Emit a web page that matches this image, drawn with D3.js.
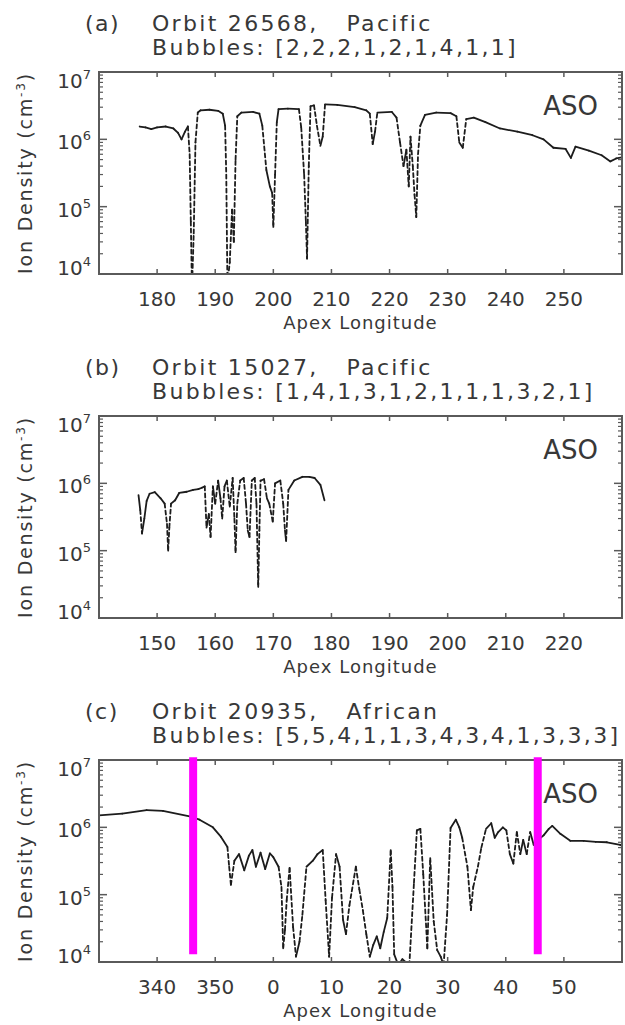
<!DOCTYPE html>
<html>
<head>
<meta charset="utf-8">
<script src="https://cdn.jsdelivr.net/npm/d3@7"></script>
<style>
  html, body { margin: 0; padding: 0; background: #fff; }
  svg { display: block; font-family: "DejaVu Sans", sans-serif; }
</style>
</head>
<body>
<svg id="chart" width="625" height="1025"></svg>
<script>
// Panel headings
const panelLetters = ["(a)", "(b)", "(c)"];
const orbitTitles = ["Orbit 26568,   Pacific", "Orbit 15027,   Pacific", "Orbit 20935,   African"];
const bubbleCounts = [
  [2, 2, 2, 1, 2, 1, 4, 1, 1],
  [1, 4, 1, 3, 1, 2, 1, 1, 1, 3, 2, 1],
  [5, 5, 4, 1, 1, 3, 4, 3, 4, 1, 3, 3, 3]
];
const instrumentLabel = "ASO";

// Apex longitude ranges (panel c runs across 360 and is unwrapped)
const lonDomains = [[170, 260], [140, 230], [330, 420]];
const lonTicks = [
  [180, 190, 200, 210, 220, 230, 240, 250],
  [150, 160, 170, 180, 190, 200, 210, 220],
  [340, 350, 360, 370, 380, 390, 400, 410]
];
const densityDomain = [1e4, 1e7];
const densityTicks = [1e4, 1e5, 1e6, 1e7];

// Ion density along track: [apex longitude, density cm^-3]
const densityA = [
  [177.0,1.55e6],[178.0,1.5e6],[179.0,1.42e6],[180.0,1.5e6],[181.5,1.55e6],[182.8,1.45e6],
  [183.6,1.25e6],[184.2,1.0e6],[184.8,1.3e6],[185.3,1.55e6],[185.6,6e5],[185.8,6e4],[186.0,6e3],
  [186.3,4e4],[186.6,9e5],[187.0,2.5e6],[187.5,2.7e6],[189.0,2.75e6],[190.5,2.65e6],[191.3,2.4e6],
  [191.7,1.6e6],[191.9,3e5],[192.1,7e3],[192.5,1.5e4],[192.9,9e4],[193.2,3e4],[193.5,5e5],
  [193.8,2.2e6],[194.5,2.5e6],[196.5,2.55e6],[197.6,2.4e6],[198.1,1.6e6],[198.8,3.5e5],[199.4,2e5],
  [199.8,1.6e5],[200.0,5e4],[200.3,3e5],[200.6,1.8e6],[200.9,2.8e6],[202.5,2.85e6],[204.4,2.8e6],
  [204.8,1.5e6],[205.3,3e5],[205.6,6e4],[205.8,1.7e4],[206.1,4e5],[206.4,3.1e6],[207.0,3.2e6],
  [207.5,1.6e6],[208.1,8e5],[208.5,1.1e6],[208.9,3.3e6],[211.0,3.25e6],[214.0,3.0e6],[216.0,2.7e6],
  [216.6,2.4e6],[217.1,8.5e5],[217.5,1.3e6],[217.9,2.5e6],[220.4,2.55e6],[221.2,2.1e6],[221.8,9e5],
  [222.4,4e5],[222.9,7e5],[223.3,2e5],[223.6,1.1e6],[224.0,4e5],[224.3,1.5e5],[224.6,7e4],
  [224.9,6e5],[225.3,1.6e6],[226.1,2.3e6],[228.0,2.5e6],[230.5,2.45e6],[231.5,2.2e6],[232.0,9e5],
  [232.6,7.5e5],[233.2,2.0e6],[234.5,2.1e6],[236.5,1.8e6],[239.0,1.45e6],[242.0,1.3e6],
  [244.6,1.15e6],[246.5,1.0e6],[248.2,7.5e5],[250.3,7.2e5],[251.2,5.3e5],[252.0,7.8e5],
  [254.3,6.8e5],[256.5,5.8e5],[258.0,4.7e5],[259.0,5.2e5],[260.0,5.4e5]
];
const densityB = [
  [146.8,6.7e5],[147.1,4e5],[147.4,1.8e5],[147.8,3e5],[148.2,5.5e5],[148.7,7e5],[149.6,7.4e5],
  [150.6,6e5],[151.3,5e5],[151.7,2.5e5],[151.9,1e5],[152.1,2.2e5],[152.4,5e5],[153.1,5.6e5],
  [153.8,7.2e5],[155.1,7.5e5],[156.2,8e5],[157.1,8.2e5],[157.7,8.6e5],[158.2,9e5],[158.5,2.2e5],
  [158.9,3.5e5],[159.2,1.6e5],[159.6,9e5],[160.0,5e5],[160.5,1.1e6],[160.9,6e5],[161.2,3e5],
  [161.6,9e5],[162.0,1.1e6],[162.5,4.5e5],[163.0,1.2e6],[163.3,3e5],[163.5,9.5e4],[163.8,5e5],
  [164.3,1.1e6],[164.9,1.2e6],[165.3,5e5],[165.6,2e5],[165.9,1.6e5],[166.3,1.1e6],[166.8,1.2e6],
  [167.1,5e5],[167.4,2.9e4],[167.6,2e5],[167.8,1.1e6],[168.4,1.15e6],[168.9,6e5],[169.3,5e5],
  [169.9,2.7e5],[170.3,1e6],[171.2,1.1e6],[171.7,5e5],[172.0,2e5],[172.2,1.4e5],[172.6,8e5],
  [173.6,1.1e6],[175.0,1.25e6],[176.2,1.25e6],[177.1,1.2e6],[178.1,9.5e5],[178.8,5.6e5]
];
const densityC = [
  [330.0,1.5e6],[334.0,1.6e6],[338.2,1.8e6],[341.0,1.75e6],[345.6,1.45e6],[347.3,1.3e6],
  [349.6,1.0e6],[351.0,7.2e5],[352.1,5.1e5],[352.4,2.6e5],[352.7,1.4e5],[353.3,3.2e5],[354.1,4e5],
  [355.0,2.3e5],[355.8,3.8e5],[356.4,4.6e5],[357.0,2.6e5],[357.8,4.2e5],[358.6,2.4e5],[359.4,4.1e5],
  [360.0,3.6e5],[360.9,2.6e5],[361.4,1.3e5],[361.7,1.6e4],[362.0,3e4],[362.3,8.3e4],[362.8,2.5e5],
  [363.4,3.3e4],[363.9,1.2e4],[364.5,2e4],[365.0,5e4],[365.7,2.6e5],[366.8,3.2e5],[367.6,4e5],
  [368.5,4.6e5],[369.0,8.3e4],[369.6,1.2e4],[370.1,9e4],[370.8,4e5],[371.4,2.6e5],[372.0,4.2e4],
  [372.5,2.6e4],[373.1,7e4],[374.2,2.6e5],[374.8,1.2e5],[375.4,5.9e4],[376.0,2.6e4],[376.6,1.2e4],
  [377.2,1.8e4],[377.8,2.4e4],[378.4,1.6e4],[379.0,2.8e4],[379.6,4.5e4],[380.2,4.6e5],[380.5,1.3e5],
  [380.8,1.3e4],[381.5,9e3],[382.2,1.1e4],[383.4,9e3],[384.2,1.5e5],[384.7,9e5],[385.3,9.5e5],
  [385.8,2e5],[386.5,1.6e4],[387.0,3.5e5],[387.6,4e4],[388.2,1.5e4],[388.8,1.2e4],[389.3,9e3],
  [389.9,5e4],[390.5,9.8e5],[391.4,1.3e6],[392.0,1e6],[392.5,7e5],[393.4,2.6e5],[394.0,5.9e4],
  [394.4,1.3e5],[395.2,2.6e5],[395.8,5e5],[396.6,9.5e5],[397.5,1.15e6],[398.1,7e5],[398.7,8.5e5],
  [399.5,1e6],[400.1,9e5],[400.7,4e5],[401.3,2.9e5],[401.9,8.5e5],[402.5,4e5],[403.0,6.5e5],
  [403.6,4e5],[404.2,8.5e5],[404.8,5.5e5],[405.6,6.5e5],[406.5,7.6e5],[407.4,9.5e5],[408.0,1.05e6],
  [409.4,8e5],[411.1,6.3e5],[413.4,6.3e5],[415.5,6.1e5],[417.4,6e5],[419.7,5.5e5],[420.0,5.3e5]
];
const densitySeries = [densityA, densityB, densityC];

// Boundary longitudes marked in panel (c), with the density span they cover
const boundaryLons = [346.2, 405.5];
const boundarySpan = [1.3e4, 1.1e7];

const textColor = "#383838";
const frameColor = "#5a5a5a";
const lineColor = "#1c1c1c";

const svg = d3.select("#chart");
const left = 99, right = 622, plotH = 202;
const panelTops = [72, 416, 760];

panelTops.forEach((top, i) => {
  const bottom = top + plotH;
  const g = svg.append("g");

  const x = d3.scaleLinear().domain(lonDomains[i]).range([left, right]);
  const y = d3.scaleLog().domain(densityDomain).range([bottom, top]);

  // headings
  g.append("text").attr("x", 85).attr("y", top - 41)
    .attr("font-size", 22).attr("fill", textColor).attr("letter-spacing", 1.5)
    .text(panelLetters[i]);
  g.append("text").attr("x", 152).attr("y", top - 41)
    .attr("font-size", 22).attr("fill", textColor).attr("letter-spacing", 2.3)
    .style("white-space", "pre").text(orbitTitles[i]);
  g.append("text").attr("x", 152).attr("y", top - 17)
    .attr("font-size", 22).attr("fill", textColor).attr("letter-spacing", 2.3)
    .text("Bubbles: [" + bubbleCounts[i].join(",") + "]");

  // clip region for the trace
  const clipId = "clip" + i;
  svg.append("clipPath").attr("id", clipId).append("rect")
    .attr("x", left).attr("y", top).attr("width", right - left).attr("height", plotH);

  // trace: steep segments are drawn broken, as in the plotted data gaps
  const series = densitySeries[i];
  const trace = g.append("g").attr("clip-path", `url(#${clipId})`);
  for (let k = 1; k < series.length; k++) {
    const x1 = x(series[k - 1][0]), y1 = y(series[k - 1][1]);
    const x2 = x(series[k][0]), y2 = y(series[k][1]);
    const steep = Math.abs(y2 - y1) > 18 && Math.abs(y2 - y1) > 3 * Math.abs(x2 - x1);
    trace.append("line")
      .attr("x1", x1).attr("y1", y1).attr("x2", x2).attr("y2", y2)
      .attr("stroke", lineColor).attr("stroke-width", 1.8)
      .attr("stroke-linecap", "round")
      .attr("stroke-dasharray", steep ? "4,3" : null);
  }

  // frame
  g.append("rect").attr("x", left).attr("y", top)
    .attr("width", right - left).attr("height", plotH)
    .attr("fill", "none").attr("stroke", frameColor).attr("stroke-width", 2);

  // x ticks (top and bottom, inward)
  lonTicks[i].forEach(v => {
    const xv = x(v);
    g.append("line").attr("x1", xv).attr("x2", xv).attr("y1", bottom).attr("y2", bottom - 5)
      .attr("stroke", frameColor).attr("stroke-width", 1.5);
    g.append("line").attr("x1", xv).attr("x2", xv).attr("y1", top).attr("y2", top + 5)
      .attr("stroke", frameColor).attr("stroke-width", 1.5);
    g.append("text").attr("x", xv).attr("y", bottom + 32)
      .attr("text-anchor", "middle").attr("font-size", 20).attr("fill", textColor)
      .text(((v % 360) + 360) % 360);
  });

  // y ticks: major decades and minor 2..9 on both sides
  const minor = [];
  for (let e = 4; e < 7; e++) for (let m = 2; m <= 9; m++) minor.push(m * Math.pow(10, e));
  minor.forEach(v => {
    const yv = y(v);
    g.append("line").attr("x1", left).attr("x2", left + 4).attr("y1", yv).attr("y2", yv)
      .attr("stroke", frameColor).attr("stroke-width", 1.2);
    g.append("line").attr("x1", right).attr("x2", right - 4).attr("y1", yv).attr("y2", yv)
      .attr("stroke", frameColor).attr("stroke-width", 1.2);
  });
  densityTicks.forEach(v => {
    const yv = y(v);
    g.append("line").attr("x1", left).attr("x2", left + 8).attr("y1", yv).attr("y2", yv)
      .attr("stroke", frameColor).attr("stroke-width", 1.5);
    g.append("line").attr("x1", right).attr("x2", right - 8).attr("y1", yv).attr("y2", yv)
      .attr("stroke", frameColor).attr("stroke-width", 1.5);
    const cy = Math.max(top + 9, Math.min(bottom - 6, yv + 3));
    const t = g.append("text").attr("x", 91).attr("y", cy + 7)
      .attr("text-anchor", "end").attr("font-size", 20).attr("fill", textColor);
    t.append("tspan").text("10");
    t.append("tspan").attr("font-size", 13).attr("dy", -9).text(Math.round(Math.log10(v)));
  });

  // axis titles
  g.append("text").attr("x", (left + right) / 2).attr("y", bottom + 55)
    .attr("text-anchor", "middle").attr("font-size", 18).attr("letter-spacing", 1)
    .attr("fill", textColor).text("Apex Longitude");
  const yt = g.append("text")
    .attr("transform", `translate(32,${(top + bottom) / 2}) rotate(-90)`)
    .attr("text-anchor", "middle").attr("font-size", 19).attr("letter-spacing", 1.8)
    .attr("fill", textColor);
  yt.append("tspan").text("Ion Density (cm");
  yt.append("tspan").attr("font-size", 12).attr("dy", -7).text("-3");
  yt.append("tspan").attr("dy", 7).text(")");

  // boundary markers (panel c)
  if (i === 2) {
    boundaryLons.forEach(lon => {
      g.append("line").attr("x1", x(lon)).attr("x2", x(lon))
        .attr("y1", y(boundarySpan[0])).attr("y2", y(boundarySpan[1]))
        .attr("stroke", "#ff00ff").attr("stroke-width", 8);
    });
  }

  g.append("text").attr("x", 598).attr("y", top + 43)
    .attr("text-anchor", "end").attr("font-size", 26).attr("fill", textColor)
    .text(instrumentLabel);
});
</script>
</body>
</html>
